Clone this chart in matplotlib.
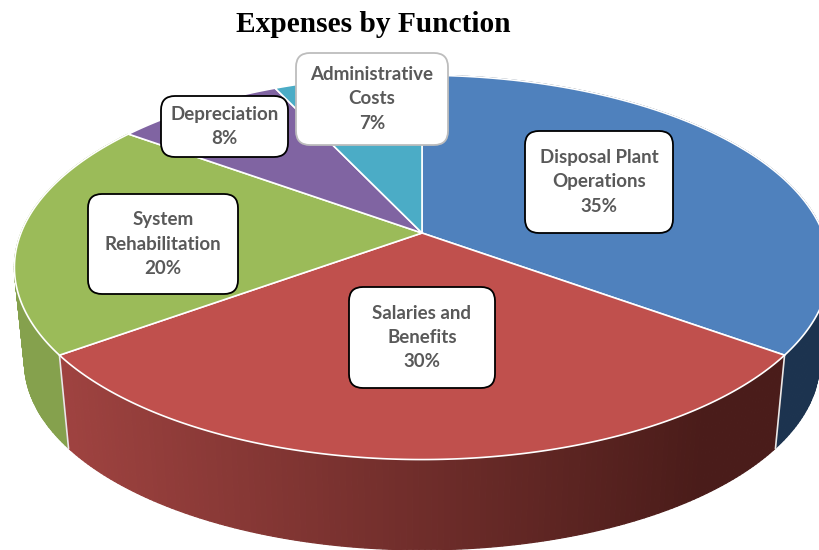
import numpy as np
import matplotlib
matplotlib.use("Agg")
import matplotlib.pyplot as plt
from matplotlib.patches import FancyBboxPatch, Polygon

labels = ["Disposal Plant\nOperations\n35%", "Salaries and\nBenefits\n30%", "System\nRehabilitation\n20%",
          "Depreciation\n8%", "Administrative\nCosts\n7%"]
values = [35, 30, 20, 8, 7]
colors = ["#4F81BD", "#C0504D", "#9BBB59", "#8064A2", "#4BACC6"]

# position of each label box: left, top, right, bottom in pixels
boxes = [(525, 131, 673, 233), (349, 287, 495, 388), (88, 194, 238, 294), (161, 96, 288, 157), (296, 53, 448, 145)]
box_edges = ["black", "black", "black", "black", "#BDBDBD"]


# pie seen in perspective: the far side is smaller than the near side
def project(theta, scale=1.0, cy=233):
    w = 1 + 0.179 * np.cos(theta)
    return 422 + scale * 401 * np.sin(theta) / w, cy - scale * 186 * np.cos(theta) / w


fig = plt.figure(figsize=(8.19, 5.5), dpi=100)
ax = fig.add_axes([0, 0, 1, 1])
ax.set_xlim(0, 819)
ax.set_ylim(550, 0)
ax.axis("off")

edges = 2 * np.pi * np.cumsum([0] + values) / sum(values)

# sides, only the near three slices can be seen
side_colors = [lambda t: (0.11, 0.20, 0.31),
               lambda t: (0.62 - 0.33 * t, 0.26 - 0.15 * t, 0.25 - 0.15 * t),
               lambda t: (0.52, 0.63, 0.30)]
for i in [0, 2, 1]:
    th = np.linspace(edges[i], edges[i + 1], 150)
    for a, b in zip(th[:-1], th[1:]):
        x1, y1 = project(a)
        x2, y2 = project(b)
        x3, y3 = project(b, 0.975, 329)
        x4, y4 = project(a, 0.975, 329)
        t = np.clip(((x1 + x2) / 2 - 65) / 640, 0, 1)
        c = side_colors[i](t)
        ax.add_patch(Polygon([(x1, y1), (x2, y2), (x3, y3), (x4, y4)], closed=True, fc=c, ec=c, lw=0.9, zorder=1))

# white lines where the slices meet on the side
for e in [edges[1], edges[2]]:
    x1, y1 = project(e)
    x2, y2 = project(e, 0.975, 329)
    ax.plot([x1, x2], [y1, y2], color="#E8E8E8", lw=1.2, zorder=2)

# top of the pie
for i in range(len(values)):
    th = np.linspace(edges[i], edges[i + 1], 200)
    x, y = project(th)
    pts = np.vstack([[422, 233], np.column_stack([x, y])])
    ax.add_patch(Polygon(pts, closed=True, fc=colors[i], ec="white", lw=1.2, joinstyle="round", zorder=3))

# label boxes
for text, (l, t, r, b), ec in zip(labels, boxes, box_edges):
    ax.add_patch(FancyBboxPatch((l + 14, t + 14), r - l - 28, b - t - 28, boxstyle="round,pad=14,rounding_size=14",
                                fc="white", ec=ec, lw=1.3, zorder=5))
    ax.text((l + r) / 2, (t + b) / 2, text, ha="center", va="center", family="Lato", weight="bold",
            fontsize=13.5, color="#595959", linespacing=1.52, zorder=6)

ax.text(373, 24, "Expenses by Function", ha="center", va="center", family="Liberation Serif", weight="bold",
        fontsize=21.2, color="black")

fig.savefig("out.png", dpi=100)
